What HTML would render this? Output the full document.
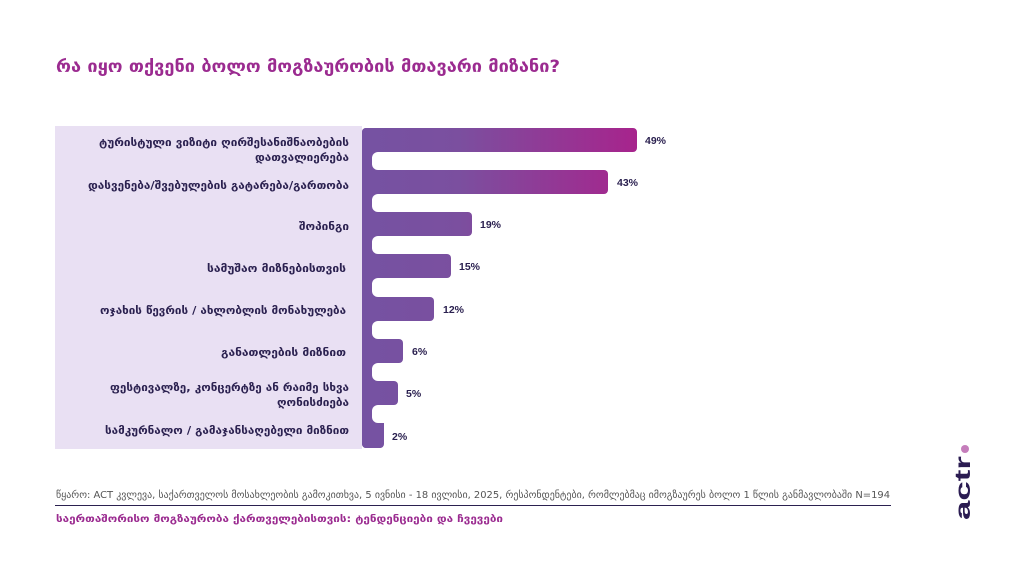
<!DOCTYPE html>
<html><head><meta charset="utf-8"><style>
html,body{margin:0;padding:0;background:#fff;}
svg{display:block;font-family:"DejaVu Sans","Liberation Sans",sans-serif;}
.l{font-size:11px;font-weight:bold;fill:#2b2150;}
.v{font-size:10.5px;font-weight:bold;fill:#2b2150;font-family:"Liberation Sans",sans-serif;}
</style></head><body>
<svg width="1024" height="576" viewBox="0 0 1024 576">
<defs>
<linearGradient id="g" gradientUnits="userSpaceOnUse" x1="362" y1="0" x2="640" y2="0">
<stop offset="0" stop-color="#7552a2"/><stop offset="0.35" stop-color="#7b4f9f"/><stop offset="1" stop-color="#a8238c"/>
</linearGradient>
</defs>
<text x="56" y="72" font-size="16.5" font-weight="bold" fill="#9b2b90" textLength="504" lengthAdjust="spacingAndGlyphs">რა იყო თქვენი ბოლო მოგზაურობის მთავარი მიზანი?</text>
<rect x="55" y="126" width="307" height="323" fill="#e9e0f3"/>
<rect x="362" y="128" width="22" height="320" rx="4" fill="url(#g)"/>
<rect x="362" y="128" width="275" height="24" rx="4" fill="url(#g)"/>
<rect x="362" y="170" width="246" height="24" rx="4" fill="url(#g)"/>
<rect x="362" y="212" width="110" height="24" rx="4" fill="url(#g)"/>
<rect x="362" y="254" width="89" height="24" rx="4" fill="url(#g)"/>
<rect x="362" y="297" width="72" height="24" rx="4" fill="url(#g)"/>
<rect x="362" y="339" width="41" height="24" rx="4" fill="url(#g)"/>
<rect x="362" y="381" width="36" height="24" rx="4" fill="url(#g)"/>
<rect x="362" y="423" width="21" height="25" rx="4" fill="url(#g)"/>
<g fill="#fff">
<rect x="372" y="152" width="300" height="18" rx="6"/>
<rect x="372" y="194" width="300" height="18" rx="6"/>
<rect x="372" y="236" width="300" height="18" rx="6"/>
<rect x="372" y="278" width="300" height="19" rx="6"/>
<rect x="372" y="321" width="300" height="18" rx="6"/>
<rect x="372" y="363" width="300" height="18" rx="6"/>
<rect x="372" y="405" width="300" height="18" rx="6"/>
</g>
<g class="l" lengthAdjust="spacingAndGlyphs">
<text x="99" y="146" textLength="250" lengthAdjust="spacingAndGlyphs">ტურისტული ვიზიტი ღირშესანიშნაობების</text>
<text x="255" y="161" textLength="94" lengthAdjust="spacingAndGlyphs">დათვალიერება</text>
<text x="88" y="189" textLength="261" lengthAdjust="spacingAndGlyphs">დასვენება/შვებულების გატარება/გართობა</text>
<text x="299" y="230" textLength="50" lengthAdjust="spacingAndGlyphs">შოპინგი</text>
<text x="207" y="272" textLength="139" lengthAdjust="spacingAndGlyphs">სამუშაო მიზნებისთვის</text>
<text x="100" y="314" textLength="246" lengthAdjust="spacingAndGlyphs">ოჯახის წევრის / ახლობლის მონახულება</text>
<text x="221" y="356" textLength="125" lengthAdjust="spacingAndGlyphs">განათლების მიზნით</text>
<text x="110" y="391" textLength="239" lengthAdjust="spacingAndGlyphs">ფესტივალზე, კონცერტზე ან რაიმე სხვა</text>
<text x="277" y="406" textLength="72" lengthAdjust="spacingAndGlyphs">ღონისძიება</text>
<text x="105" y="434" textLength="244" lengthAdjust="spacingAndGlyphs">სამკურნალო / გამაჯანსაღებელი მიზნით</text>
</g>
<g class="v">
<text x="645" y="144">49%</text>
<text x="617" y="186">43%</text>
<text x="480" y="228">19%</text>
<text x="459" y="270">15%</text>
<text x="443" y="313">12%</text>
<text x="412" y="355">6%</text>
<text x="406" y="397">5%</text>
<text x="392" y="440">2%</text>
</g>
<text x="56" y="498" font-size="9.5" fill="#555" textLength="834" lengthAdjust="spacingAndGlyphs">წყარო: ACT კვლევა, საქართველოს მოსახლეობის გამოკითხვა, 5 ივნისი - 18 ივლისი, 2025, რესპონდენტები, რომლებმაც იმოგზაურეს ბოლო 1 წლის განმავლობაში N=194</text>
<rect x="55" y="505" width="836" height="1" fill="#2b2150"/>
<text x="56" y="522" font-size="10" font-weight="bold" fill="#9b2b90" textLength="447" lengthAdjust="spacingAndGlyphs">საერთაშორისო მოგზაურობა ქართველებისთვის: ტენდენციები და ჩვევები</text>
<circle cx="965" cy="449" r="4" fill="#c57dbb"/>
<text transform="translate(970,520) rotate(-90)" font-family="Liberation Sans,sans-serif" font-size="21" font-weight="bold" fill="#2b1c52" textLength="64" lengthAdjust="spacingAndGlyphs">actr</text>
</svg>
</body></html>
